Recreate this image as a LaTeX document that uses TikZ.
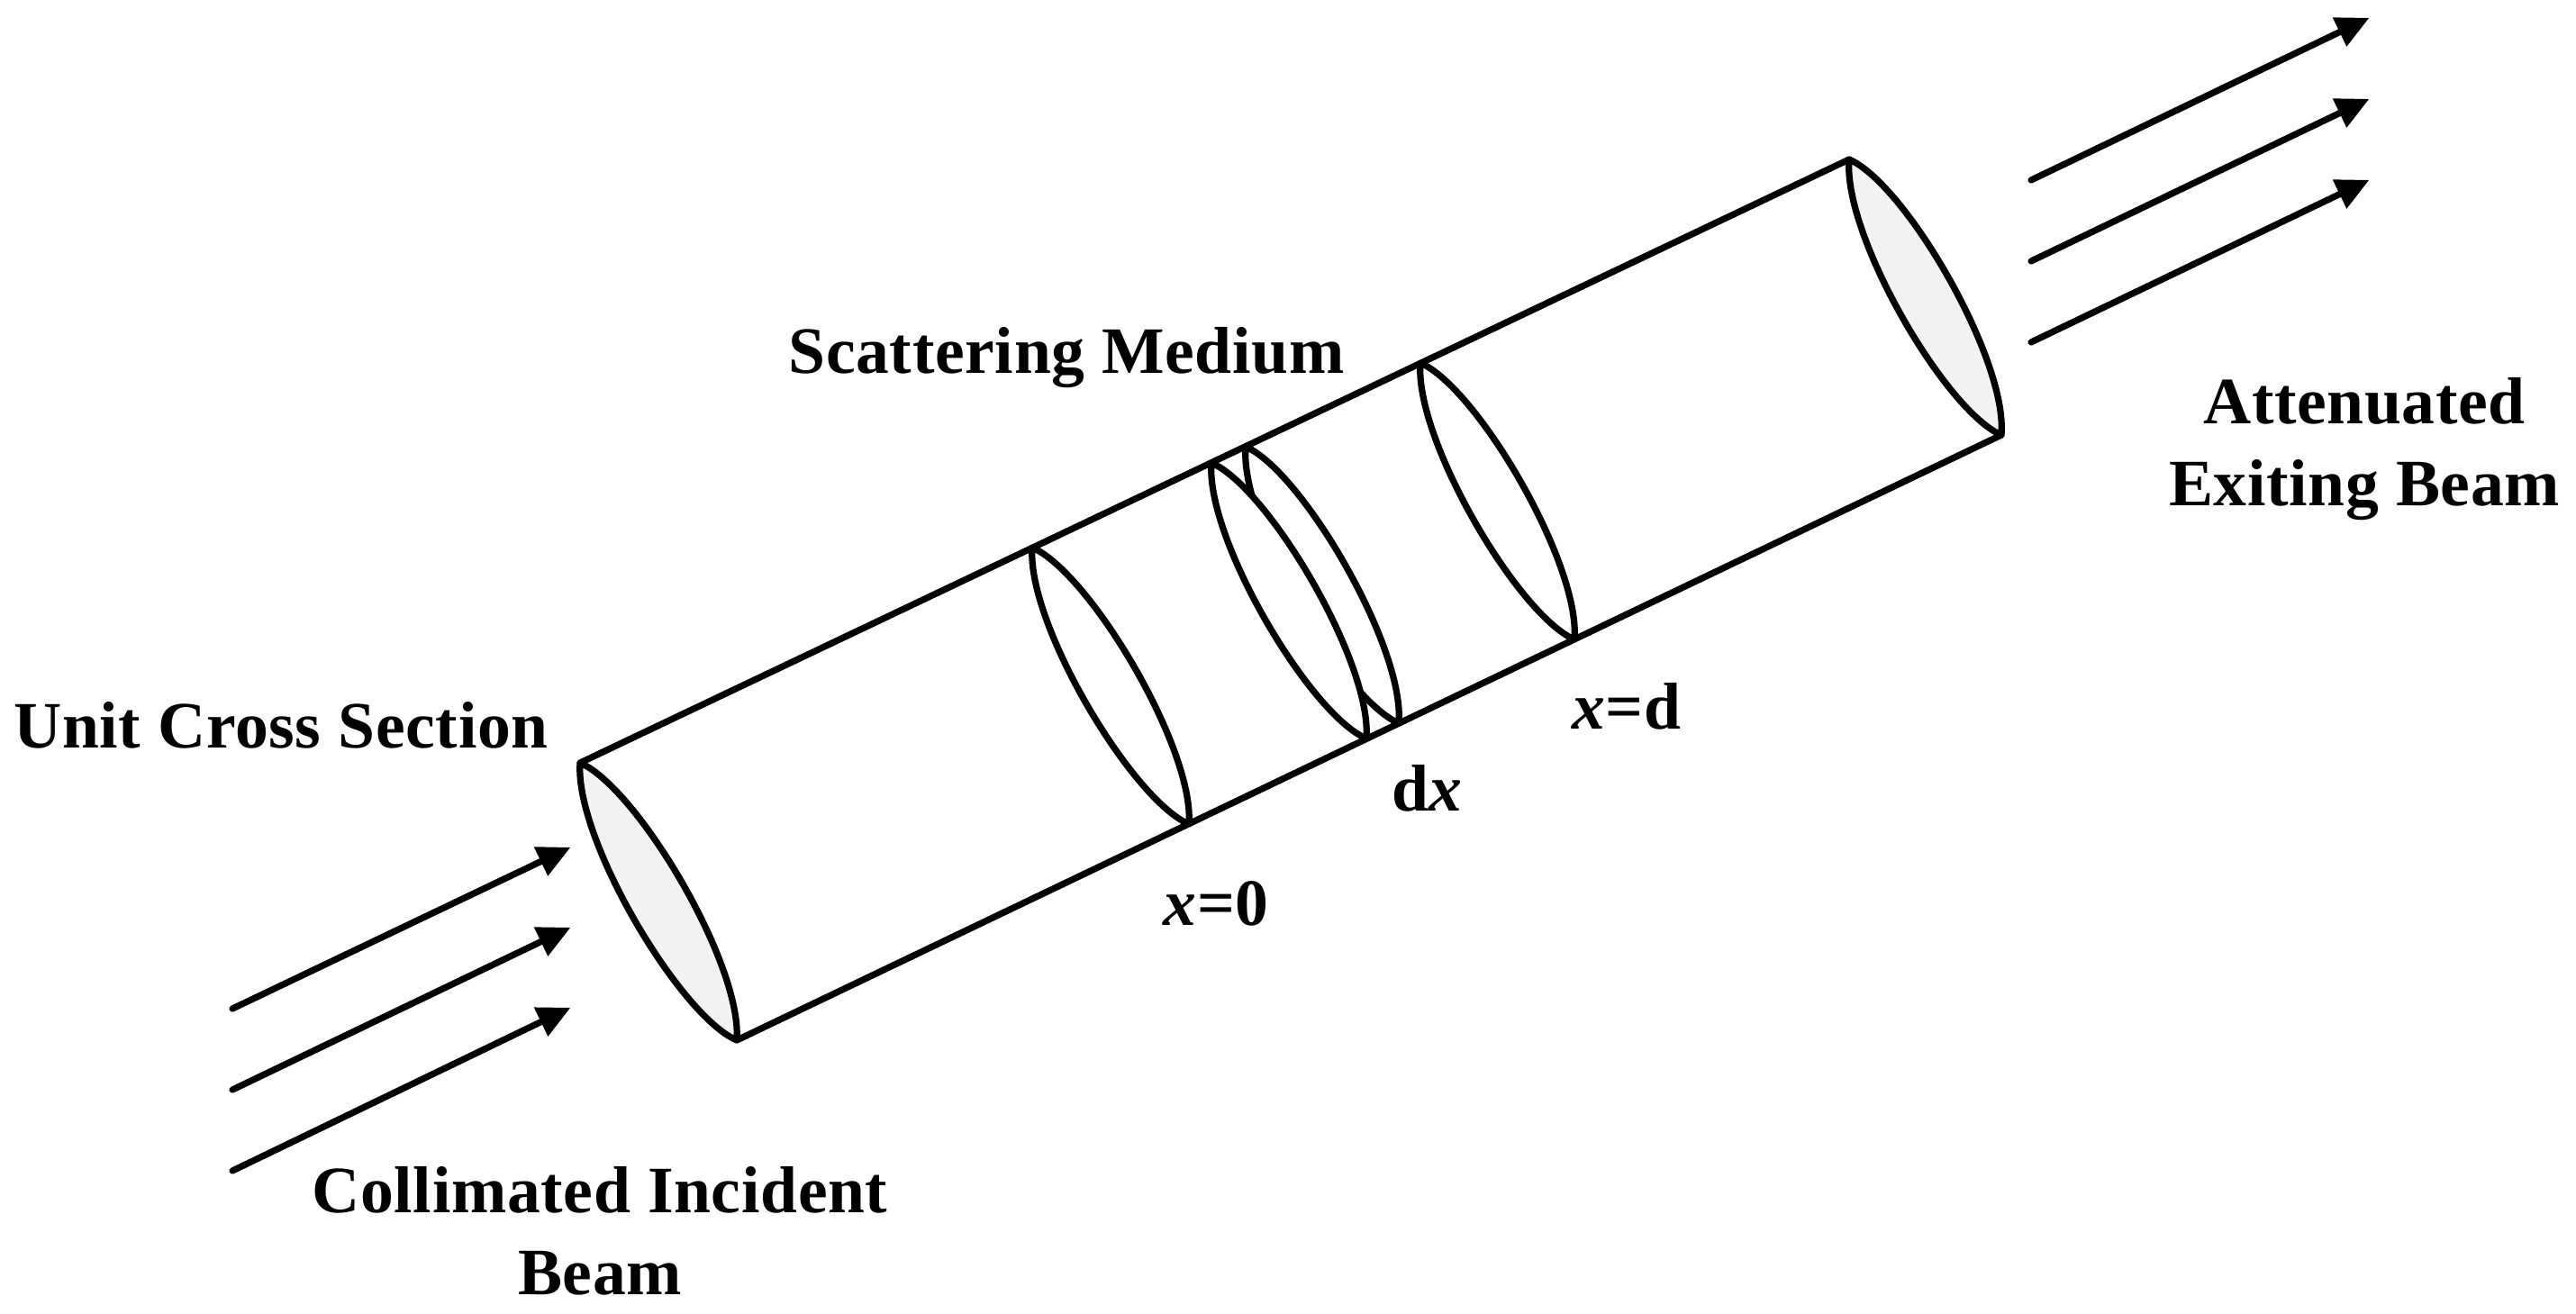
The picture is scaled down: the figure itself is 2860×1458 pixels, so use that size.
\documentclass[tikz,border=0pt]{standalone}
\usepackage{fontspec}
\setmainfont{Liberation Serif}[LetterSpace=0.9]
\usetikzlibrary{arrows.meta,calc}
\definecolor{endgrey}{HTML}{F2F2F2}
\tikzset{
  line/.style={line width=3.6pt,line cap=round,line join=round,black},
  beam/.style={line,-{Triangle[length=18pt,width=18pt,line width=0pt]}},
  lbl/.style={font=\fontsize{36.8pt}{40pt}\selectfont\bfseries,anchor=base,inner sep=0pt,text=black},
}
% \lens{top}{bottom}{fill}: a section through the tube, a lens between two named points
\newcommand{\lens}[3]{%
  \draw[line,fill=#3] (#1)
    .. controls ($(#1)!0.22!(#2)+(24.5,-41)$) and ($(#1)!0.80!(#2)+(41,-23)$) .. (#2)
    .. controls ($(#2)!0.22!(#1)+(-24.5,41)$) and ($(#2)!0.80!(#1)+(-41,23)$) .. (#1) -- cycle;}
\begin{document}
\begin{tikzpicture}[x=0.5pt,y=-0.5pt]
\useasboundingbox (0,0) rectangle (2860,1458);
% tube ends and sections
\coordinate (inTop) at (644,847);
\coordinate (inBot) at (818,1155);
\coordinate (zeroTop) at (1146,608);
\coordinate (zeroBot) at (1320,915);
\coordinate (dxaTop) at (1345,514);
\coordinate (dxaBot) at (1517,820);
\coordinate (dxbTop) at (1383,496);
\coordinate (dxbBot) at (1553,803);
\coordinate (dTop) at (1577,403);
\coordinate (dBot) at (1748,710);
\coordinate (outTop) at (2053,177);
\coordinate (outBot) at (2222,483);
% beam ends
\coordinate (a1s) at (258,1120); \coordinate (a1e) at (633,941);
\coordinate (a2s) at (258,1210); \coordinate (a2e) at (633,1030);
\coordinate (a3s) at (258,1300); \coordinate (a3e) at (633,1119);
\coordinate (b1s) at (2255,200); \coordinate (b1e) at (2630,20);
\coordinate (b2s) at (2255,290); \coordinate (b2e) at (2630,110);
\coordinate (b3s) at (2255,380); \coordinate (b3e) at (2630,200);
% tube
\draw[line] (inTop) -- (outTop);
\draw[line] (inBot) -- (outBot);
\lens{inTop}{inBot}{endgrey}
\lens{outTop}{outBot}{endgrey}
\lens{zeroTop}{zeroBot}{white}
\lens{dxbTop}{dxbBot}{white}
\lens{dxaTop}{dxaBot}{white}
\lens{dTop}{dBot}{white}
% beams
\draw[beam] (a1s) -- (a1e);
\draw[beam] (a2s) -- (a2e);
\draw[beam] (a3s) -- (a3e);
\draw[beam] (b1s) -- (b1e);
\draw[beam] (b2s) -- (b2e);
\draw[beam] (b3s) -- (b3e);
% labels
\node[lbl] (unit) at (312,830) {Unit Cross Section};
\node[lbl] (scat) at (1184,414) {Scattering Medium};
\node[lbl] (att) at (2625,470) {Attenuated};
\node[lbl] (exit) at (2625,561) {Exiting Beam};
\node[lbl] (coll) at (666,1346) {Collimated Incident};
\node[lbl] (beamlbl) at (666,1437) {Beam};
\node[lbl] (xzero) at (1350,1027) {\textit{x}=0};
\node[lbl] (dx) at (1585,900) {d\textit{x}};
\node[lbl] (xd) at (1806,809) {\textit{x}=d};
\end{tikzpicture}
\end{document}
